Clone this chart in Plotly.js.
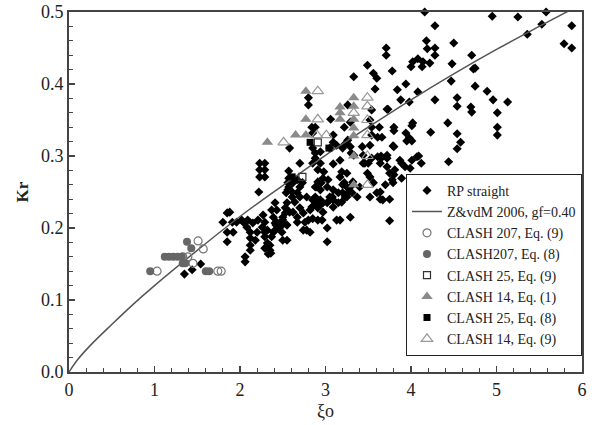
<!DOCTYPE html>
<html>
<head>
<meta charset="utf-8">
<script src="https://cdn.plot.ly/plotly-3.0.1.min.js"></script>
<style>
  html, body { margin: 0; padding: 0; background: #fff; }
  #chart { width: 592px; height: 425px; }
</style>
</head>
<body>
<div id="chart"></div>
<script>
// Reflection coefficient Kr versus breaker parameter xi_o

// RP straight: [xi_o, Kr]
const rpStraight = [
  [4.16,0.500],[4.95,0.494],[5.25,0.493],[5.58,0.500],[5.53,0.483],[5.88,0.481],[6.01,0.474],[5.36,0.469],
  [5.79,0.456],[5.88,0.450],[4.28,0.481],[3.71,0.450],[3.71,0.440],[4.18,0.460],[4.19,0.449],[4.28,0.450],
  [4.28,0.440],[4.50,0.457],[4.71,0.440],[4.02,0.431],[4.08,0.435],[4.14,0.431],[4.13,0.424],[4.22,0.429],
  [4.00,0.424],[4.48,0.428],[4.73,0.421],[4.75,0.422],[3.78,0.418],[4.47,0.404],[3.94,0.400],[3.84,0.392],
  [4.75,0.397],[4.89,0.390],[3.88,0.378],[3.98,0.375],[4.28,0.378],[4.54,0.381],[4.54,0.369],[4.96,0.378],
  [5.13,0.375],[3.73,0.365],[4.70,0.368],[4.71,0.361],[5.01,0.360],[4.43,0.346],[3.80,0.340],[3.80,0.335],
  [4.01,0.342],[3.94,0.332],[4.23,0.333],[5.01,0.340],[5.01,0.329],[3.66,0.326],[3.95,0.321],[4.01,0.321],
  [4.54,0.331],[4.58,0.319],[4.54,0.310],[3.79,0.314],[4.09,0.300],[4.12,0.290],[3.72,0.301],[3.89,0.290],
  [4.44,0.292],[3.99,0.283],[3.65,0.300],[3.89,0.269],[4.07,0.264],
  [3.49,0.426],[3.33,0.410],[3.56,0.415],[3.60,0.408],[3.58,0.393],[4.08,0.389],[2.80,0.381],[2.80,0.371],
  [3.06,0.351],[3.26,0.371],[3.22,0.340],[3.29,0.347],[3.54,0.364],[3.52,0.350],[3.72,0.365],[3.63,0.340],
  [3.54,0.340],[3.54,0.329],[3.61,0.326],[4.02,0.346],[3.98,0.325],[2.58,0.311],[2.84,0.340],[2.88,0.340],
  [2.85,0.332],[3.09,0.329],[3.09,0.319],[3.23,0.317],[3.20,0.311],[3.30,0.304],[3.43,0.313],[3.52,0.315],
  [3.26,0.322],[2.85,0.311],[2.88,0.304],[2.94,0.306],[2.88,0.297],[2.85,0.290],[2.94,0.290],[2.70,0.290],
  [3.13,0.315],[3.17,0.294],[3.44,0.301],[3.54,0.297],[3.61,0.299],[3.80,0.313],[3.87,0.294],[4.01,0.294],
  [4.07,0.299],[3.46,0.290],[3.05,0.311],[3.29,0.313],
  [2.23,0.290],[2.29,0.290],[2.23,0.281],[2.29,0.281],[2.23,0.271],[2.29,0.271],[2.22,0.250],[2.57,0.279],
  [2.57,0.269],[2.67,0.267],[3.25,0.276],[3.19,0.278],[3.17,0.271],[3.22,0.263],[3.26,0.249],[3.15,0.249],
  [3.32,0.264],[3.49,0.276],[3.52,0.271],[3.72,0.285],[3.75,0.276],[3.81,0.281],[3.80,0.274],[2.98,0.278],
  [2.97,0.269],[2.90,0.257],[2.95,0.263],[2.57,0.257],[2.67,0.249],[2.78,0.243],[2.70,0.257],[3.70,0.260],
  [3.79,0.263],[3.52,0.243],[3.60,0.249],[3.09,0.253],[3.08,0.243],[3.25,0.243],[3.37,0.243],[3.44,0.290],
  [3.50,0.290],[3.64,0.290],[3.09,0.289],[2.91,0.281],[3.33,0.301],[3.65,0.297],[3.93,0.285],[4.05,0.267],
  [3.64,0.250],[3.64,0.240],[3.75,0.240],[3.75,0.210],[3.29,0.215],[3.17,0.211],[3.13,0.211],[3.02,0.200],
  [3.02,0.181],[2.50,0.183],[2.78,0.197],[2.82,0.194],[2.85,0.213],[2.76,0.208],[2.67,0.208],[2.55,0.204],
  [2.50,0.211],[2.62,0.222],[2.64,0.236],[2.61,0.250],[2.70,0.243],[2.88,0.243],[2.90,0.235],[2.94,0.239],
  [2.97,0.222],[2.96,0.211],[2.84,0.229],[2.85,0.239],[2.55,0.235],[2.53,0.228],[2.53,0.221],[2.74,0.221],
  [2.70,0.228],[3.05,0.243],[3.09,0.239],[3.09,0.229],[3.15,0.235],[3.19,0.236],[3.23,0.243],[3.31,0.249],
  [3.25,0.257],[3.20,0.260],[3.02,0.257],[2.94,0.253],[2.91,0.264],[3.03,0.267],
  [2.62,0.263],[2.73,0.263],[2.56,0.253],[2.61,0.243],[2.88,0.257],[3.20,0.249],[3.05,0.239],[3.02,0.235],
  [2.97,0.235],[3.29,0.257],[3.40,0.257],[3.56,0.263],[3.67,0.239],[3.72,0.297],[3.78,0.267],[2.88,0.232],
  [2.94,0.232],[2.91,0.228],[2.82,0.225],[2.80,0.211],[2.91,0.211],[2.74,0.197],[2.67,0.215],[2.58,0.222],
  [2.50,0.215],[2.55,0.183],[2.43,0.208],
  [1.85,0.221],[1.88,0.222],[1.80,0.208],[1.91,0.208],[1.85,0.194],[1.92,0.194],[1.85,0.181],[2.04,0.208],
  [2.09,0.211],[2.08,0.201],[2.12,0.194],[2.12,0.186],[2.12,0.176],[2.12,0.169],[2.06,0.160],[2.06,0.153],
  [2.21,0.211],[2.26,0.201],[2.27,0.218],[2.32,0.197],[2.29,0.188],[2.32,0.179],[2.35,0.169],[2.33,0.164],
  [2.37,0.225],[2.39,0.215],[2.41,0.207],[2.37,0.188],[2.50,0.207],[2.15,0.207],[2.18,0.183],[2.39,0.194],
  [2.41,0.235],[1.96,0.208],[2.02,0.211],[2.20,0.194],[2.29,0.208],[2.29,0.194],[2.29,0.172],[2.36,0.165],
  [2.42,0.204],[2.41,0.197],[2.35,0.176],[2.43,0.225],[2.47,0.201],[2.49,0.194],[2.54,0.249],[2.56,0.263],
  [1.35,0.136],[1.44,0.142],[1.54,0.150]
];

// Z&vdM 2006 curve, gf = 0.40
const zvdmXi = [0, 0.1, 0.25, 0.5, 0.75, 1.0, 1.5, 2.0, 2.5, 3.0, 3.5, 4.0, 4.5, 5.0, 5.5, 5.9];
const zvdmKr = [0, 0.017, 0.037, 0.066, 0.094, 0.120, 0.169, 0.216, 0.259, 0.301, 0.340, 0.378, 0.414, 0.448, 0.480, 0.505];

// CLASH 207, Eq. (9)
const clash207Eq9Xi = [1.03, 1.33, 1.39, 1.51, 1.57, 1.45, 1.74, 1.78];
const clash207Eq9Kr = [0.140, 0.160, 0.160, 0.182, 0.171, 0.151, 0.140, 0.140];

// CLASH207, Eq. (8)
const clash207Eq8Xi = [0.95, 1.12, 1.17, 1.22, 1.27, 1.32, 1.38, 1.43, 1.33, 1.36, 1.60, 1.64];
const clash207Eq8Kr = [0.140, 0.160, 0.160, 0.160, 0.160, 0.160, 0.181, 0.172, 0.151, 0.151, 0.140, 0.140];

// CLASH 25, Eq. (9)
const clash25Eq9Xi = [2.73, 2.91];
const clash25Eq9Kr = [0.271, 0.319];

// CLASH 14, Eq. (1)
const clash14Eq1Xi = [2.77, 2.77, 2.65, 2.77, 2.32, 3.17, 3.17, 3.17, 3.33, 3.33, 3.33, 3.33, 3.33, 3.33, 3.33];
const clash14Eq1Kr = [0.390, 0.351, 0.329, 0.329, 0.319, 0.368, 0.360, 0.351, 0.381, 0.369, 0.351, 0.339, 0.328, 0.300, 0.260];

// CLASH 25, Eq. (8)
const clash25Eq8Xi = [2.82, 3.04, 2.61];
const clash25Eq8Kr = [0.319, 0.311, 0.271];

// CLASH 14, Eq. (9)
const clash14Eq9Xi = [2.91, 2.91, 2.51, 2.90, 3.01, 3.49, 3.49, 3.33, 3.49, 3.49, 3.49, 3.49];
const clash14Eq9Kr = [0.390, 0.351, 0.319, 0.329, 0.329, 0.381, 0.369, 0.360, 0.350, 0.329, 0.300, 0.260];

const serif = "'Liberation Serif', 'Times New Roman', serif";

function markerTrace(name, xs, ys, marker, group) {
  return {
    type: 'scatter', mode: 'markers', name: name,
    x: xs, y: ys, marker: marker, cliponaxis: false,
    legendgroup: group
  };
}

const traces = [
  markerTrace('RP straight',
    rpStraight.map(p => p[0]), rpStraight.map(p => p[1]),
    {symbol: 'diamond', size: 7, color: '#000'}, 'g1'),
  {
    type: 'scatter', mode: 'lines', name: 'Z&amp;vdM 2006, gf=0.40',
    x: zvdmXi, y: zvdmKr, line: {color: '#555', width: 1.5, shape: 'spline'},
    legendgroup: 'g2'
  },
  markerTrace('CLASH 207, Eq. (9)', clash207Eq9Xi, clash207Eq9Kr,
    {symbol: 'circle-open', size: 8, color: '#777', line: {width: 1.2}}, 'g3'),
  markerTrace('CLASH207, Eq. (8)', clash207Eq8Xi, clash207Eq8Kr,
    {symbol: 'circle', size: 8, color: '#666'}, 'g4'),
  markerTrace('CLASH 25, Eq. (9)', clash25Eq9Xi, clash25Eq9Kr,
    {symbol: 'square-open', size: 7, color: '#333', line: {width: 1.2}}, 'g5'),
  markerTrace('CLASH 14, Eq. (1)', clash14Eq1Xi, clash14Eq1Kr,
    {symbol: 'triangle-up', size: 10, color: '#8a8a8a'}, 'g6'),
  markerTrace('CLASH 25, Eq. (8)', clash25Eq8Xi, clash25Eq8Kr,
    {symbol: 'square', size: 7, color: '#000'}, 'g7'),
  markerTrace('CLASH 14, Eq. (9)', clash14Eq9Xi, clash14Eq9Kr,
    {symbol: 'triangle-up-open', size: 10, color: '#999', line: {width: 1.2}}, 'g8')
];

const layout = {
  width: 592, height: 425,
  margin: {l: 69, r: 10, t: 12, b: 53},
  paper_bgcolor: '#fff', plot_bgcolor: '#fff',
  font: {family: serif, size: 16, color: '#222'},
  showlegend: true,
  legend: {
    x: 1, xanchor: 'right', y: 0.045, yanchor: 'bottom',
    bgcolor: '#fff', bordercolor: '#222', borderwidth: 1,
    font: {family: serif, size: 14, color: '#222'},
    traceorder: 'grouped', tracegroupgap: 0
  },
  xaxis: {
    range: [0, 6], dtick: 1, tick0: 0,
    showgrid: false, zeroline: false,
    showline: true, linecolor: '#444', linewidth: 2, mirror: true,
    ticks: 'inside', ticklen: 6, tickwidth: 1.5, tickcolor: '#444',
    minor: {dtick: 0.2, ticks: 'inside', ticklen: 4, tickwidth: 1, tickcolor: '#444', showgrid: false},
    tickfont: {family: serif, size: 18, color: '#222'},
    title: {text: 'ξo', font: {family: serif, size: 18, color: '#222'}, standoff: 6}
  },
  yaxis: {
    range: [0, 0.5], dtick: 0.1, tick0: 0, tickformat: '.1f',
    showgrid: false, zeroline: false,
    showline: true, linecolor: '#444', linewidth: 2, mirror: true,
    ticks: 'inside', ticklen: 6, tickwidth: 1.5, tickcolor: '#444',
    minor: {dtick: 0.02, ticks: 'inside', ticklen: 4, tickwidth: 1, tickcolor: '#444', showgrid: false},
    tickfont: {family: serif, size: 18, color: '#222'},
    title: {text: '<b>Kr</b>', font: {family: serif, size: 17, color: '#222'}, standoff: 8}
  }
};

Plotly.newPlot('chart', traces, layout, {displayModeBar: false, staticPlot: true});
</script>
</body>
</html>
